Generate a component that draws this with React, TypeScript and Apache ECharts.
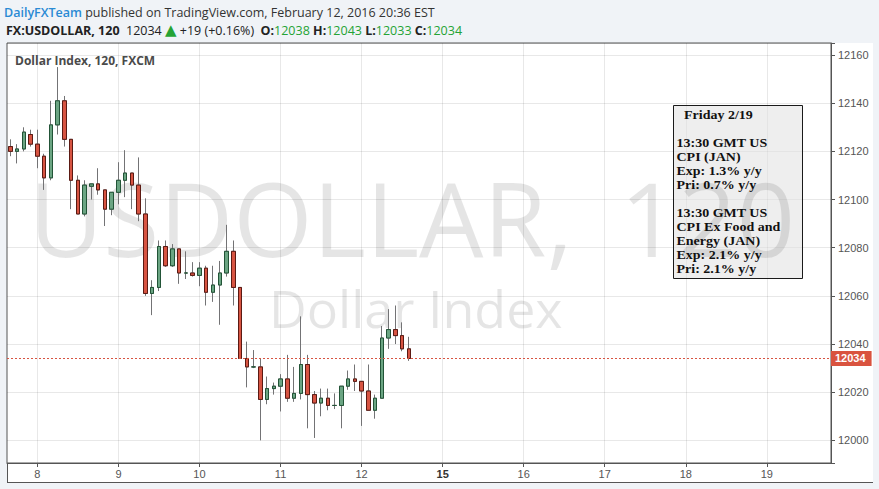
import React, { useEffect, useRef } from 'react';
import * as echarts from 'echarts';

// ---- data ----
const dayLabels = ['8', '9', '10', '11', '12', '15', '16', '17', '18', '19'];
const weekStartLabels = ['15'];
const firstDayBar = 4;
const barsPerDay = 12;
const totalBars = 122;

const opens = [
  12122, 12120, 12121, 12127, 12123, 12118, 12109, 12131, 12141, 12125,
  12108, 12094, 12105.5, 12106.5, 12104, 12096, 12103, 12108, 12111, 12106,
  12094, 12061, 12063.5, 12080.5, 12072.5, 12079.5, 12069.5, 12069.5, 12068.5, 12071.5,
  12061.5, 12064.5, 12069.5, 12078.5, 12063.5, 12034, 12030.5, 12030.5, 12017, 12021.5,
  12022.5, 12025.5, 12017.5, 12019.5, 12031.5, 12019, 12015.5, 12017.5, 12014.5, 12014.5,
  12022.5, 12025.5, 12024.5, 12020.5, 12012.5, 12017.5, 12042.5, 12046, 12043.5, 12038,
];
const highs = [
  12125, 12123, 12130, 12129, 12129, 12119, 12141, 12155, 12143, 12125,
  12110, 12108, 12106.5, 12113, 12104, 12103, 12115.5, 12120.5, 12111, 12117.5,
  12100.5, 12066.5, 12083, 12083, 12081.5, 12079.5, 12078.5, 12074, 12074, 12072.5,
  12072.5, 12074.5, 12089.5, 12083, 12063.5, 12041, 12037.5, 12034, 12026.5, 12024,
  12027.5, 12035.5, 12030.5, 12051.5, 12035.5, 12020.5, 12021.5, 12021.5, 12019.5, 12022.5,
  12029, 12031.5, 12024.5, 12031.5, 12019, 12047.5, 12054.5, 12056, 12049, 12043,
];
const lows = [
  12118, 12115, 12120, 12122, 12113, 12104, 12108, 12127, 12122, 12096,
  12094, 12093, 12100, 12102, 12089, 12093.5, 12098, 12101, 12096, 12091,
  12060, 12052, 12062, 12072, 12072, 12065, 12067, 12068, 12064, 12056,
  12057.5, 12048, 12068, 12056, 12034, 12022, 12030, 12000, 12015, 12019,
  12012, 12016, 12016, 12017, 12005, 12001, 12010, 12012.5, 12013, 12005,
  12021, 12020.5, 12006, 12012.5, 12009, 12017.5, 12038, 12040, 12037, 12033,
];
const closes = [
  12120, 12121, 12128, 12123, 12118, 12109, 12131, 12141, 12125, 12108,
  12094, 12106, 12106.5, 12104, 12096, 12103, 12108, 12111, 12106, 12094,
  12061, 12063.5, 12080.5, 12072.5, 12079.5, 12069.5, 12069.5, 12068.5, 12071.5, 12061.5,
  12064.5, 12069.5, 12078.5, 12063.5, 12034, 12030.5, 12030.5, 12017, 12021.5, 12022.5,
  12025.5, 12017.5, 12019.5, 12031.5, 12019, 12015.5, 12017.5, 12014.5, 12014.5, 12022.5,
  12025.5, 12024.5, 12020.5, 12012.5, 12017.5, 12042.5, 12046, 12043.5, 12038, 12034,
];

const symbolName = 'FX:USDOLLAR, 120';
const changeText = '+19 (+0.16%)';
const publisher = 'DailyFXTeam';
const publishedText = 'published on TradingView.com, February 12, 2016 20:36 EST';
const legendTitle = 'Dollar Index, 120, FXCM';
const watermarkName = 'USDOLLAR,';
const watermarkInterval = '120';
const watermarkSmall = 'Dollar Index';
const noteTitle = 'Friday 2/19';
const noteLines = [
  '13:30 GMT US', 'CPI (JAN)', 'Exp: 1.3% y/y', 'Pri: 0.7% y/y', '',
  '13:30 GMT US', 'CPI Ex Food and', 'Energy (JAN)', 'Exp: 2.1% y/y', 'Pri: 2.1% y/y',
];
const yMin = 11990.6;
const yMax = 12165;

// ---- derived ----
const categories = Array.from({ length: totalBars }, (_, i) => 'b' + i);
const isDayIdx = (i: number) =>
  i >= firstDayBar && (i - firstDayBar) % barsPerDay === 0 && (i - firstDayBar) / barsPerDay < dayLabels.length;
const dayLabelAt = (i: number) => (isDayIdx(i) ? dayLabels[(i - firstDayBar) / barsPerDay] : '');

const last = opens.length - 1;
const lastClose = closes[last];

const wickData = opens.map((o, i) => [o, closes[i], lows[i], highs[i]]);
const bodyData = opens.map((o, i) => [o, closes[i], Math.min(o, closes[i]), Math.max(o, closes[i])]);

const UP = '#6ba583';
const DOWN = '#d75442';
const UP_B = '#225437';
const DOWN_B = '#5b1a13';
const WICK = '#737375';
const FRAME = '#555555';
const GRIDC = 'rgba(0,0,0,0.09)';
const WM = 'rgba(0,0,0,0.1)';
const NOTE_FONT = 'bold 12.5px "Liberation Serif"';

export default function App() {
  const ref = useRef<HTMLDivElement>(null);
  useEffect(() => {
    if (!ref.current) return;
    const chart = echarts.init(ref.current, undefined, { renderer: 'svg' });

    const noteTexts = noteLines
      .map((t, k) => ({ t, k }))
      .filter((o) => o.t !== '')
      .map((o) => ({
        type: 'text', z: 21, silent: true, x: 676.5, y: 143 + o.k * 14, scaleX: 1.12,
        style: { text: o.t, fill: '#111', font: NOTE_FONT, verticalAlign: 'middle' },
      }));

    const option: any = {
      animation: false,
      backgroundColor: '#f0f3f7',
      grid: {
        left: 7, top: 43, width: 824, height: 420,
        show: true, borderColor: FRAME, borderWidth: 1, backgroundColor: 'transparent',
      },
      xAxis: {
        type: 'category',
        data: categories,
        boundaryGap: true,
        axisLine: { show: true, lineStyle: { color: FRAME } },
        axisTick: { show: true, alignWithLabel: true, interval: (i: number) => isDayIdx(i), length: 4, lineStyle: { color: FRAME } },
        axisLabel: {
          interval: (i: number) => isDayIdx(i),
          formatter: (_v: string, i: number) => {
            const l = dayLabelAt(i);
            return weekStartLabels.includes(l) ? '{w|' + l + '}' : l;
          },
          color: '#555', fontSize: 11, fontFamily: 'Liberation Sans', margin: 5,
          rich: { w: { fontWeight: 'bold', color: '#333', fontSize: 11, fontFamily: 'Liberation Sans' } },
        },
        splitLine: { show: false },
      },
      yAxis: {
        type: 'value',
        position: 'right',
        min: yMin,
        max: yMax,
        splitNumber: 8,
        axisLine: { show: true, lineStyle: { color: FRAME } },
        axisTick: { show: true, length: 4, lineStyle: { color: FRAME } },
        axisLabel: {
          color: '#555', fontSize: 11, fontFamily: 'Liberation Sans', margin: 7,
          formatter: (v: number) => (Math.abs(v % 20) < 1e-6 ? String(v) : ''),
        },
        splitLine: { show: true, lineStyle: { color: GRIDC, width: 1 } },
      },
      series: [
        {
          type: 'candlestick',
          name: 'wick',
          data: wickData,
          barWidth: 4,
          z: 2,
          itemStyle: { color: WICK, color0: WICK, borderColor: WICK, borderColor0: WICK, borderColorDoji: WICK, borderWidth: 1 },
          markLine: {
            silent: true,
            z: 1,
            symbol: 'none',
            label: { show: false },
            lineStyle: { color: GRIDC, type: 'solid', width: 1 },
            data: dayLabels.map((_, k) => ({ xAxis: firstDayBar + k * barsPerDay })),
          },
        },
        {
          type: 'candlestick',
          name: 'body',
          data: bodyData,
          barWidth: 4,
          z: 3,
          itemStyle: { color: UP, color0: DOWN, borderColor: UP_B, borderColor0: DOWN_B, borderColorDoji: UP_B, borderWidth: 1 },
          markLine: {
            silent: true,
            z: 6,
            symbol: 'none',
            lineStyle: { color: DOWN, type: [2, 2], width: 1 },
            label: {
              show: true, position: 'end', distance: 0,
              formatter: () => String(lastClose),
              backgroundColor: '#d9533f', color: '#fff', fontWeight: 'bold', fontSize: 11,
              fontFamily: 'Liberation Sans', padding: [2, 6, 2, 4],
            },
            data: [{ yAxis: lastClose }],
          },
        },
      ],
      graphic: [
        { type: 'rect', z: -3, silent: true, shape: { x: 7, y: 43, width: 866, height: 439 }, style: { fill: '#ffffff' } },
        { type: 'line', z: 1, silent: true, shape: { x1: 7, y1: 482.5, x2: 873, y2: 482.5 }, style: { stroke: FRAME, lineWidth: 1 } },
        { type: 'line', z: 1, silent: true, shape: { x1: 7.5, y1: 463, x2: 7.5, y2: 482.5 }, style: { stroke: FRAME, lineWidth: 1 } },
        {
          type: 'text', z: -1, silent: true, x: 29, y: 217,
          style: { text: watermarkName, fill: WM, font: '102px "Open Sans"', verticalAlign: 'middle', textAlign: 'left' },
        },
        {
          type: 'text', z: 25, silent: true, x: 620, y: 217,
          style: { text: watermarkInterval, fill: WM, font: '102px "Open Sans"', verticalAlign: 'middle', textAlign: 'left' },
        },
        {
          type: 'text', z: -1, silent: true, x: 269, y: 307,
          style: { text: watermarkSmall, fill: WM, font: '52px "Open Sans"', verticalAlign: 'middle', textAlign: 'left' },
        },
        {
          type: 'text', z: 5, silent: true, x: 15, y: 60,
          style: { text: legendTitle, fill: '#4a4a4a', font: 'bold 12px "Open Sans"', verticalAlign: 'middle' },
        },
        {
          type: 'text', z: 5, silent: true, x: 4, y: 12,
          style: {
            text: '{p|' + publisher + '} {n|' + publishedText + '}',
            verticalAlign: 'middle',
            font: '12.5px "Open Sans"',
            rich: {
              p: { fill: '#2a8ad4', font: '600 12.5px "Open Sans"' },
              n: { fill: '#333', font: '12.5px "Open Sans"' },
            },
          },
        },
        {
          type: 'text', z: 5, silent: true, x: 6, y: 30,
          style: {
            text:
              '{b|' + symbolName + '}  {n|' + lastClose + '} {t|▲} {n|' + changeText + '}  ' +
              '{b|O:}{g|' + opens[last] + '} {b|H:}{g|' + highs[last] + '} {b|L:}{g|' + lows[last] + '} {b|C:}{g|' + closes[last] + '}',
            verticalAlign: 'middle',
            font: '12.5px "Open Sans"',
            fill: '#222',
            rich: {
              b: { fill: '#222', font: 'bold 12.5px "Open Sans"' },
              n: { fill: '#222', font: '12.5px "Open Sans"' },
              g: { fill: '#25a335', font: '12.5px "Open Sans"' },
              t: { fill: '#25a335', font: '15px "DejaVu Sans"' },
            },
          },
        },
        {
          type: 'rect', z: 20, silent: true,
          shape: { x: 673.5, y: 105.5, width: 129, height: 173 },
          style: { fill: 'rgba(224,224,224,0.55)', stroke: '#1a1a1a', lineWidth: 1 },
        },
        {
          type: 'text', z: 21, silent: true, x: 684, y: 115, scaleX: 1.12,
          style: { text: noteTitle, fill: '#111', font: NOTE_FONT, verticalAlign: 'middle' },
        },
        ...noteTexts,
      ],
    };
    chart.setOption(option);
    return () => chart.dispose();
  }, []);
  return <div ref={ref} style={{ position: 'fixed', left: 0, top: 0, width: 879, height: 489 }} />;
}
